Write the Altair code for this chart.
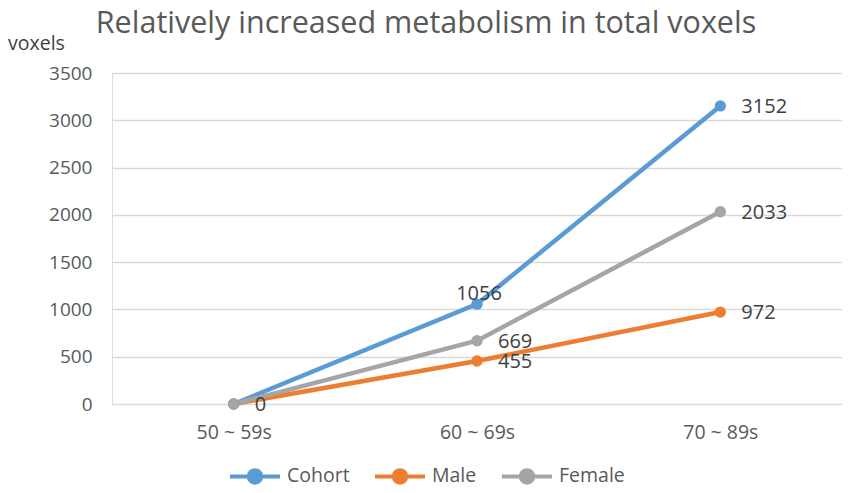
import altair as alt
import pandas as pd

ages = ["50 ~ 59s", "60 ~ 69s", "70 ~ 89s"]
series_names = ["Cohort", "Male", "Female"]
cohort = [0, 1056, 3152]
male = [0, 455, 972]
female = [0, 669, 2033]
colors = ["#5B9BD5", "#ED7D31", "#A5A5A5"]
y_ticks = [0, 500, 1000, 1500, 2000, 2500, 3000, 3500]

rows = []
for name, vals in zip(series_names, [cohort, male, female]):
    for a, v in zip(ages, vals):
        rows.append({"age": a, "series": name, "value": v})
df = pd.DataFrame(rows)

FONT = "Open Sans"
sym = "M-1,0L1,0M-0.25,0A0.25,0.25,0,1,1,0.25,0A0.25,0.25,0,1,1,-0.25,0Z"

x = alt.X("age:N", sort=ages, title=None,
          axis=alt.Axis(labelAngle=0, labelFontSize=19.5, labelColor="#595959", labelFont=FONT,
                        labelPadding=19, ticks=False, domain=False, grid=False))
y = alt.Y("value:Q", title=None, scale=alt.Scale(domain=[0, 3500], nice=False),
          axis=alt.Axis(values=y_ticks, format="d", labelFontSize=19, labelColor="#595959",
                        labelFont=FONT, labelPadding=20, ticks=False, domain=False,
                        gridColor="#D9D9D9", gridWidth=1.5))
color = alt.Color("series:N", sort=series_names,
                  scale=alt.Scale(domain=series_names, range=colors),
                  legend=alt.Legend(title=None, orient="none", direction="horizontal",
                                    legendX=116, legendY=376, symbolType=sym, symbolSize=2500,
                                    symbolStrokeWidth=4, labelFontSize=19.5, labelColor="#595959",
                                    labelFont=FONT, columnPadding=17, labelOffset=5,
                                    symbolOpacity=1, padding=0))

base = alt.Chart(df)
lines = base.mark_line(strokeWidth=4.5).encode(x=x, y=y, color=color)
points = base.mark_circle(size=130, opacity=1).encode(
    x=x, y=y,
    color=alt.Color("series:N", sort=series_names,
                    scale=alt.Scale(domain=series_names, range=colors), legend=None))

lab_right = base.transform_filter(
    "datum.series == 'Female' || (datum.value > 0 && !(datum.series == 'Cohort' && datum.age == '60 ~ 69s'))"
).mark_text(align="left", baseline="middle", dx=21, dy=1, fontSize=20, color="#404040", font=FONT).encode(
    x=x, y=y, text="value:Q")
lab_above = base.transform_filter(
    "datum.series == 'Cohort' && datum.age == '60 ~ 69s'"
).mark_text(align="center", baseline="middle", dx=2, dy=-10, fontSize=20, color="#404040", font=FONT).encode(
    x=x, y=y, text="value:Q")

title_df = pd.DataFrame({"t": ["Relatively increased metabolism in total voxels"]})
title = alt.Chart(title_df).mark_text(fontSize=30.5, color="#595959", font=FONT, align="center",
                                      baseline="alphabetic").encode(
    x=alt.value(314), y=alt.value(-40), text="t:N")
ylab_df = pd.DataFrame({"t": ["voxels"]})
ylab = alt.Chart(ylab_df).mark_text(fontSize=19.5, color="#404040", font=FONT, align="left",
                                    baseline="alphabetic").encode(
    x=alt.value(-104), y=alt.value(-23), text="t:N")

chart = alt.layer(lines, points, lab_right, lab_above, title, ylab).properties(
    width=730, height=331,
    autosize=alt.AutoSizeParams(type="none"),
    padding={"left": 104, "top": 65, "right": 0, "bottom": 81},
).configure_view(stroke=None).configure(background="white")

chart.save("out.html", embed_options={"renderer": "svg", "actions": False})
